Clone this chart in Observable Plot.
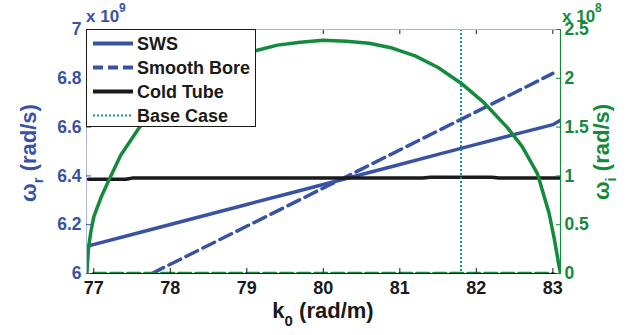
<!DOCTYPE html>
<html><head><meta charset="utf-8">
<script src="https://cdn.jsdelivr.net/npm/d3@7"></script>
<script src="https://cdn.jsdelivr.net/npm/@observablehq/plot@0.6"></script>
<style>body{margin:0;background:#fff}</style>
</head><body><div id="chart"></div>
<script>
// axes
const xDomain = [76.905, 83.1];
const yLeftDomain = [6, 7];
const yRightDomain = [0, 2.5];
const xTicks = [77, 78, 79, 80, 81, 82, 83];
const leftTicks = [6, 6.2, 6.4, 6.6, 6.8, 7];
const rightTicks = [0, 0.5, 1, 1.5, 2, 2.5];
const baseCaseK = [81.8];

// SWS (omega_r, x1e9)
const swsK  = [76.93, 77.5, 78.0, 78.5, 79.0, 79.5, 80.0, 80.5, 81.0, 81.5, 82.0, 82.5, 82.9, 83.0, 83.1];
const swsWr = [6.113, 6.160, 6.201, 6.242, 6.283, 6.324, 6.365, 6.406, 6.447, 6.488, 6.529, 6.570, 6.602, 6.610, 6.628];
// Smooth bore (omega_r, x1e9)
const sbK  = [77.76, 78.5, 79.5, 80.5, 81.5, 82.5, 83.0];
const sbWr = [6.0, 6.116, 6.272, 6.428, 6.585, 6.741, 6.82];
// Cold tube (omega_r, x1e9)
const ctK  = [76.93, 77.42, 77.5, 81.3, 81.4, 82.2, 82.3, 83.1];
const ctWr = [6.386, 6.386, 6.391, 6.391, 6.394, 6.394, 6.391, 6.391];
// SWS growth rate (omega_i, x1e8)
const swsIK = [76.91, 76.93, 76.96, 77.0, 77.1, 77.2, 77.35, 77.6, 77.9, 78.2, 78.5, 78.8, 79.1, 79.4, 79.7, 80.0, 80.3, 80.6, 80.9, 81.2, 81.5, 81.8, 82.1, 82.4, 82.6, 82.8, 82.95, 83.02, 83.08, 83.1];
const swsWi = [0.0, 0.25, 0.42, 0.58, 0.79, 0.96, 1.21, 1.50, 1.74, 1.93, 2.07, 2.18, 2.28, 2.34, 2.37, 2.39, 2.38, 2.36, 2.31, 2.23, 2.11, 1.95, 1.75, 1.50, 1.30, 1.02, 0.62, 0.35, 0.08, 0.0];
// Smooth bore growth rate (omega_i, x1e8)
const sbIK = [77.0, 83.0];
const sbWi = [0, 0];

const blue = "#3953a4", green = "#148a3c", teal = "#15908f", black = "#1a1a1a";

// map right-axis values onto the left y scale
const toLeft = v => yLeftDomain[0] + (v - yRightDomain[0]) * (yLeftDomain[1] - yLeftDomain[0]) / (yRightDomain[1] - yRightDomain[0]);
const toRight = v => yRightDomain[0] + (v - yLeftDomain[0]) * (yRightDomain[1] - yRightDomain[0]) / (yLeftDomain[1] - yLeftDomain[0]);

const zip = (xs, ys) => xs.map((x, i) => ({x, y: ys[i]}));
const sws = zip(swsK, swsWr);
const sb = zip(sbK, sbWr);
const ct = zip(ctK, ctWr);
const swsI = zip(swsIK, swsWi.map(toLeft));
const sbI = zip(sbIK, sbWi.map(toLeft));

const font = "Liberation Sans, Arial, Helvetica, sans-serif";

const svg = Plot.plot({
  width: 637, height: 335,
  marginLeft: 86, marginRight: 77, marginTop: 29, marginBottom: 62,
  style: {fontFamily: font, fontWeight: "bold", background: "#fff"},
  x: {domain: xDomain},
  y: {domain: yLeftDomain},
  marks: [
    Plot.line(sws, {x: "x", y: "y", stroke: blue, strokeWidth: 3.5, clip: true}),
    Plot.line(sb, {x: "x", y: "y", stroke: blue, strokeWidth: 3.5, strokeDasharray: "13,6", clip: true}),
    Plot.line(ct, {x: "x", y: "y", stroke: black, strokeWidth: 3.5, clip: true}),
    Plot.line(swsI, {x: "x", y: "y", stroke: green, strokeWidth: 3.5, clip: true}),
    Plot.line(sbI, {x: "x", y: "y", stroke: green, strokeWidth: 3.5, strokeDasharray: "12,5", clip: true}),
    Plot.ruleX(baseCaseK, {stroke: teal, strokeWidth: 2, strokeDasharray: "2,2"}),
    // spines
    Plot.ruleY([yLeftDomain[1]], {stroke: "#b4b4b4", strokeWidth: 1}),
    Plot.ruleX([xDomain[0]], {stroke: "#b0b8d8", strokeWidth: 1}),
    Plot.ruleX([xDomain[1]], {stroke: green, strokeWidth: 1.2}),
    Plot.ruleY([yLeftDomain[0]], {stroke: black, strokeWidth: 1}),
    // x axis
    Plot.axisX({ticks: xTicks, tickSize: -5, tickFormat: () => "", stroke: black, label: null}),
    Plot.axisX({ticks: xTicks, anchor: "top", tickSize: -4, tickFormat: () => "", stroke: black, label: null}),
    Plot.axisX({ticks: xTicks, tickSize: 0, tickPadding: 8, tickFormat: d => String(d), fill: black, fontSize: 18, fontWeight: "bold", label: null}),
    // left axis
    Plot.axisY({ticks: leftTicks, anchor: "left", tickSize: -5, tickFormat: () => "", stroke: blue, label: null}),
    Plot.axisY({ticks: leftTicks, anchor: "left", tickSize: 0, tickPadding: 5, tickFormat: d => String(d), fill: blue, fontSize: 17.5, fontWeight: "bold", label: null}),
    // right axis
    Plot.axisY(rightTicks.map(toLeft), {anchor: "right", tickSize: -5, tickFormat: () => "", stroke: green, label: null}),
    Plot.axisY(rightTicks.map(toLeft), {anchor: "right", tickSize: 0, tickPadding: 4, tickFormat: d => String(Math.round(toRight(d) * 10) / 10), fill: green, fontSize: 17.5, fontWeight: "bold", label: null})
  ]
});

const s = d3.select(svg);
s.attr("font-family", font).attr("font-weight", "bold");

// exponent labels
const e1 = s.append("text").attr("x", 86).attr("y", 22).attr("text-anchor", "start").attr("fill", blue).attr("font-size", 17);
e1.append("tspan").text("x 10");
e1.append("tspan").attr("dy", -10).attr("font-size", 12).text("9");
const e2 = s.append("text").attr("x", 562).attr("y", 22).attr("text-anchor", "start").attr("fill", green).attr("font-size", 17);
e2.append("tspan").text("x 10");
e2.append("tspan").attr("dy", -10).attr("font-size", 12).text("8");

// axis labels
const xl = s.append("text").attr("x", 323).attr("y", 318).attr("text-anchor", "middle").attr("fill", black).attr("font-size", 22);
xl.append("tspan").text("k");
xl.append("tspan").attr("dy", 8).attr("font-size", 15).text("0");
xl.append("tspan").attr("dy", -8).text(" (rad/m)");

const yl = s.append("text").attr("transform", "translate(36,153) rotate(-90)").attr("text-anchor", "middle").attr("fill", blue).attr("font-size", 22);
yl.append("tspan").text("ω");
yl.append("tspan").attr("dy", 7).attr("font-size", 15).text("r");
yl.append("tspan").attr("dy", -7).text(" (rad/s)");

const yr = s.append("text").attr("transform", "translate(609,152) rotate(-90)").attr("text-anchor", "middle").attr("fill", green).attr("font-size", 22);
yr.append("tspan").text("ω");
yr.append("tspan").attr("dy", 7).attr("font-size", 15).text("i");
yr.append("tspan").attr("dy", -7).text(" (rad/s)");

// legend
const legendItems = [
  {label: "SWS", stroke: blue, width: 4, dash: null},
  {label: "Smooth Bore", stroke: blue, width: 4, dash: "10,5"},
  {label: "Cold Tube", stroke: black, width: 4, dash: null},
  {label: "Base Case", stroke: teal, width: 2, dash: "2,2"}
];
const lg = s.append("g");
lg.append("rect").attr("x", 86.5).attr("y", 29.5).attr("width", 169).attr("height", 97).attr("fill", "#fff").attr("stroke", black).attr("stroke-width", 1);
legendItems.forEach((d, i) => {
  const y = 43.5 + i * 24;
  lg.append("line").attr("x1", 93).attr("x2", 133).attr("y1", y).attr("y2", y)
    .attr("stroke", d.stroke).attr("stroke-width", d.width).attr("stroke-dasharray", d.dash);
  lg.append("text").attr("x", 137).attr("y", y).attr("dy", "0.36em").attr("text-anchor", "start").attr("fill", black).attr("font-size", 18).text(d.label);
});

document.getElementById("chart").appendChild(svg);
</script>
</body></html>
